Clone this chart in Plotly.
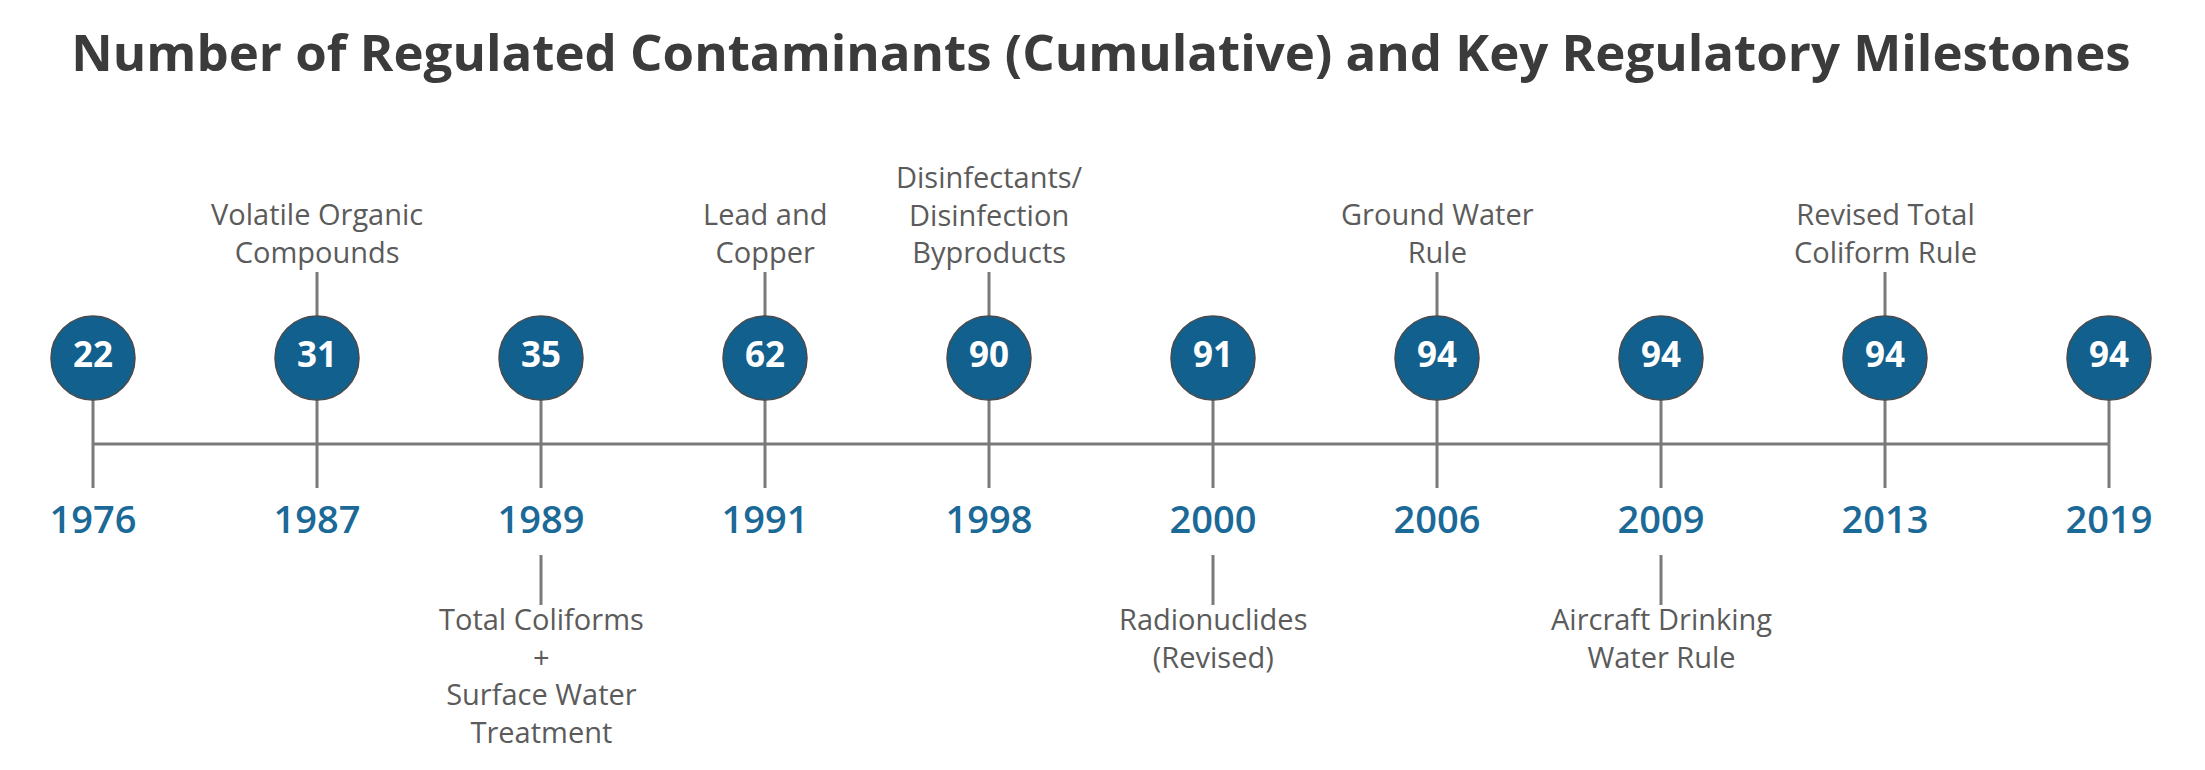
import plotly.graph_objects as go

# ---- data ----
years = ["1976", "1987", "1989", "1991", "1998", "2000", "2006", "2009", "2013", "2019"]
counts = [22, 31, 35, 62, 90, 91, 94, 94, 94, 94]
milestones = [
    "",
    "Volatile Organic<br>Compounds",
    "Total Coliforms<br>+<br>Surface Water<br>Treatment",
    "Lead and<br>Copper",
    "Disinfectants/<br>Disinfection<br>Byproducts",
    "Radionuclides<br>(Revised)",
    "Ground Water<br>Rule",
    "Aircraft Drinking<br>Water Rule",
    "Revised Total<br>Coliform Rule",
    "",
]
milestone_side = ["", "above", "below", "above", "above", "below", "above", "below", "above", ""]

# ---- layout constants (window-pixel-like vertical scale) ----
W, H = 2205, 770
PAGE_OFFSET = 8          # default body margin of the html page
FIG_W, FIG_H = W - PAGE_OFFSET, H - PAGE_OFFSET
Y_CIRCLE = 358
Y_LINE = 444
Y_STEM_BOTTOM = 488
Y_YEAR = 523
Y_UP_STEM_TOP = 272
Y_DOWN_STEM_TOP = 555
Y_DOWN_STEM_BOTTOM = 605

BLUE = "#11608e"
YEAR_BLUE = "#1b6997"
GRAY_LINE = "#7a7a7a"
TEXT_GRAY = "#5b5b5b"

idx = list(range(len(years)))

fig = go.Figure()

# horizontal timeline
fig.add_trace(go.Scatter(x=[idx[0], idx[-1]], y=[Y_LINE, Y_LINE], mode="lines",
                         line=dict(color=GRAY_LINE, width=3), hoverinfo="skip", showlegend=False))

# vertical stems
sx, sy = [], []
for i in idx:
    sx += [i, i, None]
    sy += [Y_CIRCLE, Y_STEM_BOTTOM, None]
for i, side in zip(idx, milestone_side):
    if side == "above":
        sx += [i, i, None]
        sy += [Y_UP_STEM_TOP, Y_CIRCLE, None]
    elif side == "below":
        sx += [i, i, None]
        sy += [Y_DOWN_STEM_TOP, Y_DOWN_STEM_BOTTOM, None]
fig.add_trace(go.Scatter(x=sx, y=sy, mode="lines", line=dict(color=GRAY_LINE, width=3),
                         hoverinfo="skip", showlegend=False))

# circles with counts
fig.add_trace(go.Scatter(
    x=idx, y=[Y_CIRCLE] * len(idx), mode="markers+text",
    marker=dict(size=84, color=BLUE, line=dict(color="#4a4a4a", width=1.5)),
    text=[str(c) for c in counts], textposition="middle center",
    textfont=dict(family="Open Sans", size=35, color="white", weight="bold"),
    hoverinfo="skip", showlegend=False))

# year labels
fig.add_trace(go.Scatter(
    x=idx, y=[Y_YEAR] * len(idx), mode="text", text=years, textposition="middle center",
    textfont=dict(family="Open Sans", size=38, color=YEAR_BLUE, weight=600),
    hoverinfo="skip", showlegend=False))

annotations = []
for i, m, side in zip(idx, milestones, milestone_side):
    if side == "above":
        annotations.append(dict(x=i, y=Y_UP_STEM_TOP + 1, xref="x", yref="y", text=m, showarrow=False,
                                yanchor="bottom", xanchor="center", align="center",
                                font=dict(family="Open Sans", size=29, color=TEXT_GRAY, weight=500)))
    elif side == "below":
        annotations.append(dict(x=i, y=Y_DOWN_STEM_BOTTOM - 8, xref="x", yref="y", text=m, showarrow=False,
                                yanchor="top", xanchor="center", align="center",
                                font=dict(family="Open Sans", size=29, color=TEXT_GRAY, weight=500)))

spacing = 224.0
x0_px = 93 - PAGE_OFFSET
x_min = -x0_px / spacing
x_max = x_min + FIG_W / spacing
fig.update_layout(
    width=FIG_W, height=FIG_H,
    margin=dict(l=0, r=0, t=0, b=0),
    paper_bgcolor="white", plot_bgcolor="white",
    title=dict(text="<b>Number of Regulated Contaminants (Cumulative) and Key Regulatory Milestones</b>",
               x=(1101 - PAGE_OFFSET) / FIG_W, xanchor="center",
               y=1 - (53 - PAGE_OFFSET) / FIG_H, yanchor="middle",
               font=dict(family="Open Sans", size=51, color="#3b3b3b")),
    xaxis=dict(range=[x_min, x_max], visible=False, fixedrange=True),
    yaxis=dict(range=[H, PAGE_OFFSET], visible=False, fixedrange=True),
    annotations=annotations,
)

fig.write_html("out.html")
